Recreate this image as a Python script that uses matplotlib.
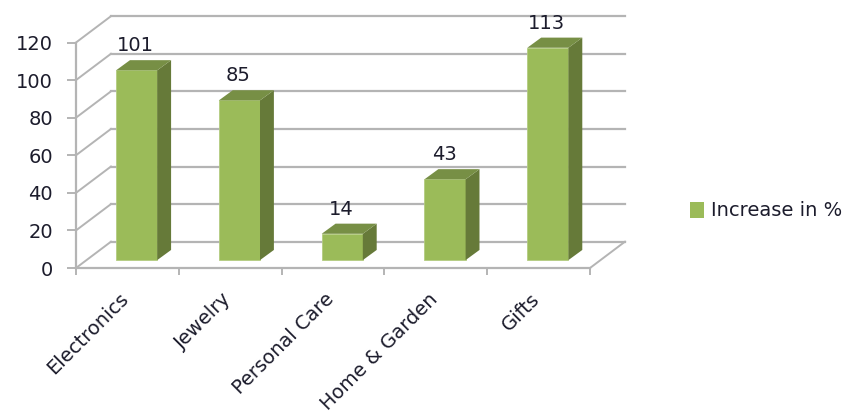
import numpy as np
from matplotlib import pyplot as plt
from matplotlib.patches import Patch

categories = ['Electronics', 'Jewelry', 'Personal Care', 'Home & Garden', 'Gifts']
increase = [101, 85, 14, 43, 113]
y_ticks = [0, 20, 40, 60, 80, 100, 120]
series_name = 'Increase in %'

# fake 3d: how far the back wall and the bar sides are shifted, in data units
wall_dx, wall_dy = 0.34, 14.0
bar_dx, bar_dy = 0.135, 5.4
bar_lift = 4.2
bar_width = 0.4
bar_shift = 0.09
label_shift = -0.08

grid_color = '#b4b4b4'
text_color = '#1c1c2c'
front_color = '#9bbb59'
side_color = '#667a39'
top_color = '#778f45'

plt.rcParams['font.family'] = 'DejaVu Sans'
fig = plt.figure(figsize=(8.45, 4.13), dpi=100)
ax = fig.add_axes([76 / 845, (413 - 268) / 413, 514 / 845, 225.5 / 413])

n = len(categories)
ax.set_xlim(0, n)
ax.set_ylim(0, y_ticks[-1])

# back wall grid and the slanted lines joining it to the value axis
for v in y_ticks:
    ax.plot([wall_dx, n + wall_dx], [v + wall_dy, v + wall_dy], color=grid_color, lw=1.6, clip_on=False, zorder=1)
    ax.plot([0, wall_dx], [v, v + wall_dy], color=grid_color, lw=1.4, clip_on=False, zorder=1)
ax.plot([n, n + wall_dx], [0, wall_dy], color=grid_color, lw=1.4, clip_on=False, zorder=1)

xs = np.arange(n) + 0.5 + bar_shift
ax.bar(xs, increase, bar_width, bottom=bar_lift, color=front_color, edgecolor='#b3cc80', lw=0.6, clip_on=False, zorder=3)
for x, val in zip(xs, increase):
    left, right = x - bar_width / 2, x + bar_width / 2
    top = val + bar_lift
    ax.fill([right, right + bar_dx, right + bar_dx, right],
            [bar_lift, bar_lift + bar_dy, top + bar_dy, top],
            color=side_color, lw=0, clip_on=False, zorder=3)
    ax.fill([left, left + bar_dx, right + bar_dx, right],
            [top, top + bar_dy, top + bar_dy, top],
            color=top_color, lw=0, clip_on=False, zorder=3)
    ax.text(x - 0.01, top + bar_dy + 2.6, str(val), ha='center', va='bottom', fontsize=14,
            color=text_color, zorder=4, clip_on=False)

for side in ['top', 'right']:
    ax.spines[side].set_visible(False)
for side in ['left', 'bottom']:
    ax.spines[side].set_color(grid_color)
    ax.spines[side].set_linewidth(1.6)

ax.set_yticks(y_ticks)
ax.tick_params(axis='y', length=6.5, width=1.4, color=grid_color, labelsize=14, labelcolor=text_color, pad=10)

# tick marks sit between the categories, the labels under their middle
ax.set_xticks(np.arange(n + 1))
ax.set_xticklabels([])
ax.tick_params(axis='x', which='major', length=5, width=1.4, color=grid_color)
ax.set_xticks(np.arange(n) + 0.5 + label_shift, minor=True)
ax.set_xticklabels(categories, minor=True, rotation=45, ha='right', rotation_mode='anchor',
                   fontsize=14, color=text_color)
ax.tick_params(axis='x', which='minor', length=0, pad=15.5)

handle = Patch(facecolor=front_color, edgecolor='none', label=series_name)
fig.legend(handles=[handle], loc='center left', bbox_to_anchor=(686 / 845, 1 - 211 / 413), frameon=False,
           fontsize=14, labelcolor=text_color, handlelength=0.75, handleheight=0.9, handletextpad=0.35,
           borderpad=0.2, borderaxespad=0)

fig.savefig('out.png', dpi=100)
